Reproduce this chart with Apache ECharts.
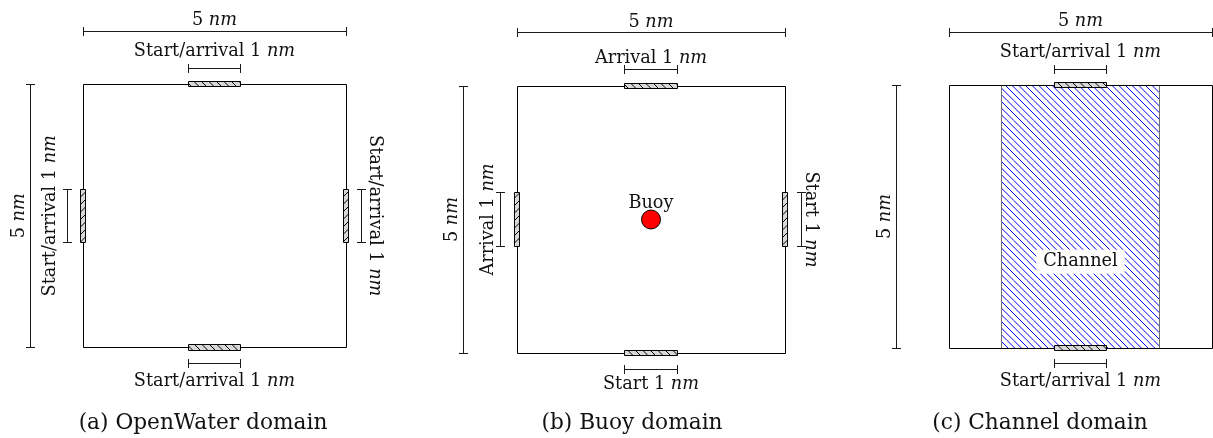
<!DOCTYPE html>
<html>
<head>
<meta charset="utf-8">
<script src="https://cdn.jsdelivr.net/npm/echarts@6/dist/echarts.min.js"></script>
<style>
  html, body { margin: 0; padding: 0; background: #fff; }
  #chart { width: 1213px; height: 438px; }
</style>
</head>
<body>
<div id="chart"></div>
<script>
// Three square sailing domains; every length is in nautical miles (nm).
const captions = ['(a) OpenWater domain', '(b) Buoy domain', '(c) Channel domain'];
const domainSide = [5, 5, 5];            // side of each square domain
const gateLength = [1, 1, 1];            // length of each start / arrival gate
const gateSides = [
  ['top', 'bottom', 'left', 'right'],
  ['top', 'bottom', 'left', 'right'],
  ['top', 'bottom']
];
const gateNames = [
  ['Start/arrival', 'Start/arrival', 'Start/arrival', 'Start/arrival'],
  ['Arrival', 'Start', 'Arrival', 'Start'],
  ['Start/arrival', 'Start/arrival']
];
const buoyPos = [2.5, 2.5];              // buoy of domain (b)
const buoyName = 'Buoy';
const channelSpan = [1, 4];              // x-range of the channel in domain (c)
const channelLabelPos = [2.5, 1.67];
const channelName = 'Channel';

// ---- layout and style ----
const grids = [
  { left: 83,  top: 84, width: 263, height: 263.5 },
  { left: 517, top: 86, width: 268, height: 267 },
  { left: 949, top: 85, width: 263, height: 263 }
];
const captionX = [203, 632, 1040];
const captionY = 423;
const sideGap = 10.6;                    // label gap of the overall dimensions (px)
const gateGap = [
  { top: 16.6, bottom: 18,   left: 17,   right: 12.5 },
  { top: 11.7, bottom: 15.7, left: 12.7, right: 9.7 },
  { top: 16.6, bottom: 18 }
];
const DIM_OUT = 1;        // overall dimension line distance from the square (nm)
const GATE_DIM_OUT = 0.3; // gate dimension line distance (nm)
const GATE_THICK = 0.11;  // drawn thickness of a gate (nm)
const FONT = 'DejaVu Serif';
const LABEL_SIZE = 17.7;
const CAPTION_SIZE = 21.7;
const INK = '#111';

const crisp = v => Math.round(v - 0.5) + 0.5;

function hatch(size, step, color, bg, dir, lw) {
  const c = document.createElement('canvas');
  c.width = c.height = size;
  const g = c.getContext('2d');
  if (bg) { g.fillStyle = bg; g.fillRect(0, 0, size, size); }
  g.strokeStyle = color;
  g.lineWidth = lw;
  g.beginPath();
  for (let k = -size; k <= size + 0.01; k += step) {
    if (dir === 'down') { g.moveTo(k, 0); g.lineTo(k + size, size); }
    else { g.moveTo(k, size); g.lineTo(k + size, 0); }
  }
  g.stroke();
  return c;
}
const channelHatch = { image: hatch(20, 20 / 3, '#0000ff', '#ffffff', 'down', 1), repeat: 'repeat' };
const gateHatchH = { image: hatch(15, 7.5, '#000', '#d8d8d8', 'down', 1), repeat: 'repeat' };
const gateHatchV = { image: hatch(15, 7.5, '#000', '#d8d8d8', 'up', 1), repeat: 'repeat' };

function richLabel(prefix, value) {
  return {
    text: '{r|' + prefix + value + ' }{i|nm}',
    rich: {
      r: { fontFamily: FONT, fontSize: LABEL_SIZE, fill: INK },
      i: { fontFamily: FONT, fontSize: LABEL_SIZE, fontStyle: 'italic', fill: INK }
    },
    align: 'center',
    verticalAlign: 'middle'
  };
}

// Dimension lines (with their labels) for one domain.
function dimensionsFor(i) {
  const S = domainSide[i], L = gateLength[i], c = S / 2;
  const list = [
    { a: [0, S + DIM_OUT], b: [S, S + DIM_OUT], side: 'top', text: richLabel('', S), gap: sideGap },
    { a: [-DIM_OUT, 0], b: [-DIM_OUT, S], side: 'left', text: richLabel('', S), gap: sideGap }
  ];
  gateSides[i].forEach((side, k) => {
    const t = richLabel(gateNames[i][k] + ' ', L);
    const g = gateGap[i][side];
    if (side === 'top') list.push({ a: [c - L / 2, S + GATE_DIM_OUT], b: [c + L / 2, S + GATE_DIM_OUT], side, text: t, gap: g });
    if (side === 'bottom') list.push({ a: [c - L / 2, -GATE_DIM_OUT], b: [c + L / 2, -GATE_DIM_OUT], side, text: t, gap: g });
    if (side === 'left') list.push({ a: [-GATE_DIM_OUT, c - L / 2], b: [-GATE_DIM_OUT, c + L / 2], side, text: t, gap: g });
    if (side === 'right') list.push({ a: [S + GATE_DIM_OUT, c - L / 2], b: [S + GATE_DIM_OUT, c + L / 2], side, text: t, gap: g });
  });
  return list;
}

// Gate rectangles straddling the domain edges.
function gatesFor(i) {
  const S = domainSide[i], L = gateLength[i], c = S / 2, h = GATE_THICK / 2;
  return gateSides[i].map(side => {
    if (side === 'top') return { r: [c - L / 2, S - h, c + L / 2, S + h], horiz: true };
    if (side === 'bottom') return { r: [c - L / 2, -h, c + L / 2, h], horiz: true };
    if (side === 'left') return { r: [-h, c - L / 2, h, c + L / 2], horiz: false };
    return { r: [S - h, c - L / 2, S + h, c + L / 2], horiz: false };
  });
}

function rectFrom(api) {
  const p1 = api.coord([api.value(0), api.value(1)]);
  const p2 = api.coord([api.value(2), api.value(3)]);
  const x1 = crisp(Math.min(p1[0], p2[0])), x2 = crisp(Math.max(p1[0], p2[0]));
  const y1 = crisp(Math.min(p1[1], p2[1])), y2 = crisp(Math.max(p1[1], p2[1]));
  return { x: x1, y: y1, width: x2 - x1, height: y2 - y1 };
}

const series = [];
const xAxis = [], yAxis = [];

captions.forEach((cap, i) => {
  const S = domainSide[i];
  xAxis.push({ type: 'value', gridIndex: i, min: 0, max: S, show: false });
  yAxis.push({ type: 'value', gridIndex: i, min: 0, max: S, show: false });

  // square domain outline
  series.push({
    type: 'custom', xAxisIndex: i, yAxisIndex: i, z: 3, silent: true,
    data: [[0, 0, S, S]],
    renderItem: (p, api) => ({
      type: 'rect', shape: rectFrom(api),
      style: { fill: 'none', stroke: '#000', lineWidth: 1 }
    })
  });

  // dimension lines
  const dims = dimensionsFor(i);
  series.push({
    type: 'custom', xAxisIndex: i, yAxisIndex: i, z: 4, silent: true,
    data: dims.map(d => [d.a[0], d.a[1], d.b[0], d.b[1]]),
    renderItem: (p, api) => {
      const d = dims[p.dataIndex];
      const p1 = api.coord([api.value(0), api.value(1)]);
      const p2 = api.coord([api.value(2), api.value(3)]);
      const st = { stroke: '#1a1a1a', lineWidth: 1 };
      const T = 4.5;
      const kids = [];
      let tx, ty, rot = 0;
      if (d.side === 'top' || d.side === 'bottom') {
        const y = crisp(p1[1]), xa = crisp(p1[0]), xb = crisp(p2[0]);
        kids.push({ type: 'line', shape: { x1: xa, y1: y, x2: xb, y2: y }, style: st });
        kids.push({ type: 'line', shape: { x1: xa, y1: y - T, x2: xa, y2: y + T }, style: st });
        kids.push({ type: 'line', shape: { x1: xb, y1: y - T, x2: xb, y2: y + T }, style: st });
        tx = (p1[0] + p2[0]) / 2;
        ty = d.side === 'top' ? p1[1] - d.gap : p1[1] + d.gap;
      } else {
        const x = crisp(p1[0]), ya = crisp(p1[1]), yb = crisp(p2[1]);
        kids.push({ type: 'line', shape: { x1: x, y1: ya, x2: x, y2: yb }, style: st });
        kids.push({ type: 'line', shape: { x1: x - T, y1: ya, x2: x + T, y2: ya }, style: st });
        kids.push({ type: 'line', shape: { x1: x - T, y1: yb, x2: x + T, y2: yb }, style: st });
        ty = (p1[1] + p2[1]) / 2;
        if (d.side === 'left') { tx = p1[0] - d.gap; rot = Math.PI / 2; }
        else { tx = p1[0] + d.gap; rot = -Math.PI / 2; }
      }
      kids.push({ type: 'text', x: tx, y: ty, rotation: rot, style: Object.assign({ x: 0, y: 0 }, d.text) });
      return { type: 'group', children: kids };
    }
  });

  // gates
  const gates = gatesFor(i);
  series.push({
    type: 'custom', xAxisIndex: i, yAxisIndex: i, z: 5, silent: true,
    data: gates.map(g => g.r),
    renderItem: (p, api) => ({
      type: 'rect', shape: rectFrom(api),
      style: { fill: gates[p.dataIndex].horiz ? gateHatchH : gateHatchV, stroke: '#000', lineWidth: 1 }
    })
  });
});

// channel of domain (c)
series.push({
  type: 'custom', xAxisIndex: 2, yAxisIndex: 2, z: 2, silent: true,
  data: [[channelSpan[0], 0, channelSpan[1], domainSide[2]]],
  renderItem: (p, api) => ({
    type: 'rect', shape: rectFrom(api),
    style: { fill: channelHatch, stroke: '#6e6e6e', lineWidth: 1 }
  })
});
series.push({
  type: 'custom', xAxisIndex: 2, yAxisIndex: 2, z: 6, silent: true,
  data: [channelLabelPos],
  renderItem: (p, api) => {
    const c = api.coord([api.value(0), api.value(1)]);
    return {
      type: 'text', x: c[0], y: c[1] + 1.5,
      style: {
        text: channelName, fontFamily: FONT, fontSize: LABEL_SIZE, fill: INK,
        align: 'center', verticalAlign: 'middle',
        backgroundColor: '#fff', padding: [3, 7, 3, 7]
      }
    };
  }
});

// buoy of domain (b)
series.push({
  type: 'scatter', xAxisIndex: 1, yAxisIndex: 1, z: 6, silent: true,
  data: [buoyPos],
  symbol: 'circle', symbolSize: 19,
  itemStyle: { color: '#ff0000', borderColor: '#000', borderWidth: 1, opacity: 1 },
  label: {
    show: true, position: 'top', distance: -3, formatter: buoyName,
    fontFamily: FONT, fontSize: LABEL_SIZE, color: INK
  },
  emphasis: { disabled: true }
});

const chart = echarts.init(document.getElementById('chart'), null, { renderer: 'canvas' });
chart.setOption({
  animation: false,
  backgroundColor: '#fff',
  grid: grids.map(g => Object.assign({ containLabel: false }, g)),
  xAxis, yAxis,
  series,
  graphic: captions.map((cap, i) => ({
    type: 'text', x: captionX[i], y: captionY, silent: true,
    style: {
      text: cap, fontFamily: FONT, fontSize: CAPTION_SIZE, fill: INK,
      align: 'center', verticalAlign: 'middle'
    }
  }))
});
</script>
</body>
</html>
